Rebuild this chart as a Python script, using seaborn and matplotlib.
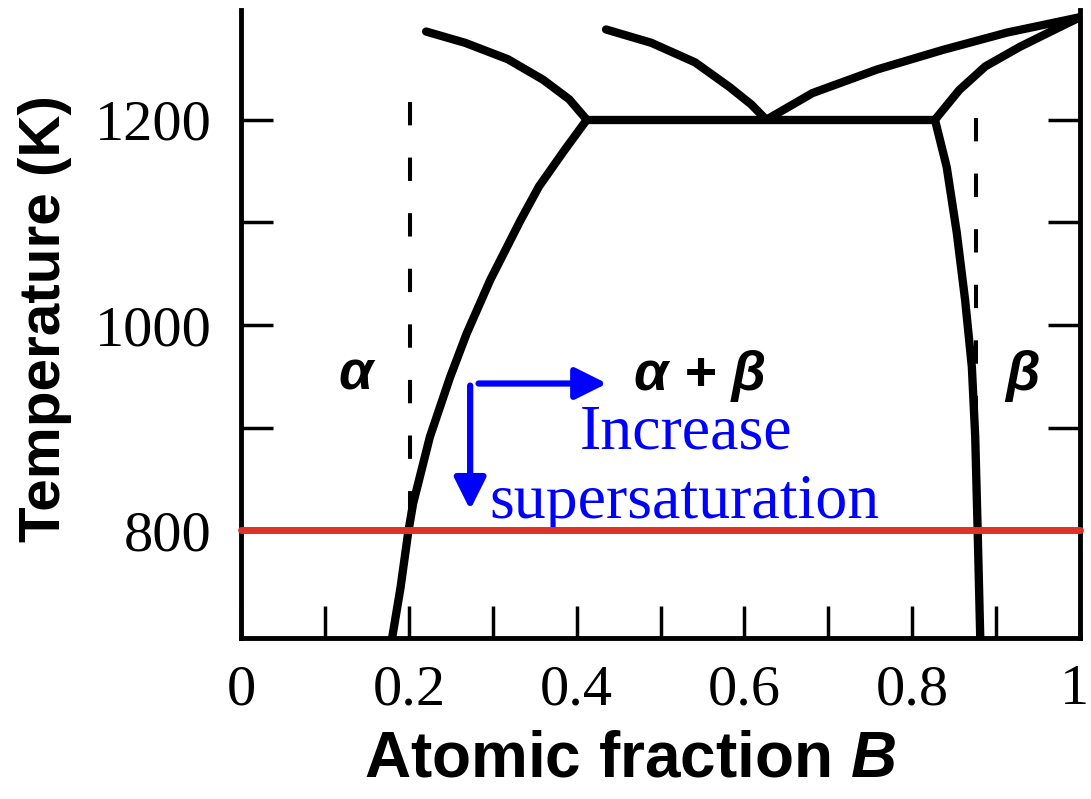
# -*- coding: utf-8 -*-

### Binary phase diagram, alpha / beta with supersaturation arrows ###

import matplotlib
matplotlib.use("Agg")
import matplotlib.pyplot as plt
import seaborn as sns
# shift the last x tick label a few points to the left
from matplotlib.transforms import ScaledTranslation

## Data ##

# alpha solvus (left two-phase boundary)
alpha_solvus_x = [0.180, 0.190, 0.199, 0.205, 0.225, 0.249, 0.269, 0.297, 0.333, 0.355, 0.386, 0.412]
alpha_solvus_T = [695, 744, 797, 826, 891, 949, 992, 1044, 1102, 1135, 1171, 1200]

# beta solvus (right two-phase boundary)
beta_solvus_x = [0.881, 0.878, 0.875, 0.871, 0.863, 0.853, 0.841, 0.827]
beta_solvus_T = [695, 797, 891, 959, 1024, 1090, 1154, 1200]

# three-phase line
eutectic_x = [0.412, 0.827]
eutectic_T = [1200, 1200]

# liquidus / solidus branches above 1200 K
alpha_liquidus_x = [0.2205, 0.267, 0.318, 0.360, 0.391, 0.412]
alpha_liquidus_T = [1286, 1275, 1259, 1239, 1220, 1200]

mid_liquidus_x = [0.435, 0.489, 0.541, 0.582, 0.608, 0.626]
mid_liquidus_T = [1288, 1275, 1256, 1232, 1215, 1200]

right_liquidus_x = [0.626, 0.681, 0.758, 0.836, 0.913, 1.0]
right_liquidus_T = [1200, 1226, 1249, 1268, 1285, 1300]

beta_solidus_x = [0.827, 0.856, 0.887, 0.928, 0.965, 1.0]
beta_solidus_T = [1200, 1229, 1252, 1271, 1286, 1300]

# alloy compositions (dashed)
alpha_alloy_x = [0.201, 0.201]
alpha_alloy_T = [1217, 800]
beta_alloy_x = [0.876, 0.876]
beta_alloy_T = [1202, 800]

# ageing temperature
hold_T = 800

x_major = [0, 0.2, 0.4, 0.6, 0.8, 1.0]
x_labels = ["0", "0.2", "0.4", "0.6", "0.8", "1"]
x_minor = [0.1, 0.3, 0.5, 0.7, 0.9]
y_major = [800, 1000, 1200]
y_minor = [900, 1100]

## Style ##
sns.set_style("white")
plt.rcParams['font.family'] = ['Liberation Serif', 'DejaVu Serif']
plt.rcParams['mathtext.fontset'] = 'custom'
plt.rcParams['mathtext.it'] = 'Liberation Sans:bold:italic'
plt.rcParams['mathtext.rm'] = 'Liberation Sans:bold'
plt.rcParams['text.color'] = 'black'
plt.rcParams['axes.labelcolor'] = 'black'
plt.rcParams['xtick.color'] = 'black'
plt.rcParams['ytick.color'] = 'black'

blue = '#0000ff'
red = '#dc3228'

fig = plt.figure(figsize=(10.91, 7.99), dpi=100)
ax = fig.add_axes([0.221, 0.2015, 0.769, 0.786])

# solid phase boundaries
curves = [(alpha_solvus_x, alpha_solvus_T), (beta_solvus_x, beta_solvus_T),
          (eutectic_x, eutectic_T), (alpha_liquidus_x, alpha_liquidus_T),
          (mid_liquidus_x, mid_liquidus_T), (right_liquidus_x, right_liquidus_T),
          (beta_solidus_x, beta_solidus_T)]
for xs, ts in curves:
    sns.lineplot(x=xs, y=ts, sort=False, estimator=None, color='black', lw=6,
                 solid_joinstyle='round', ax=ax, legend=False)

# dashed alloy lines
for xs, ts in [(alpha_alloy_x, alpha_alloy_T), (beta_alloy_x, beta_alloy_T)]:
    sns.lineplot(x=xs, y=ts, sort=False, estimator=None, color='black', lw=2.9,
                 linestyle=(0, (5.8, 8)), ax=ax, legend=False)

# ageing temperature
ax.axhline(hold_T, color=red, lw=5, zorder=4, clip_on=False)

# arrows
arrow_kw = dict(arrowstyle='-|>,head_length=0.4,head_width=0.2', color=blue, lw=4.5,
                mutation_scale=48, shrinkA=0, shrinkB=0)
ax.annotate('', xy=(0.436, 943), xytext=(0.283, 943), arrowprops=arrow_kw)
ax.annotate('', xy=(0.273, 820), xytext=(0.273, 941), arrowprops=arrow_kw)

ax.text(0.530, 880, "Increase", color=blue, fontsize=46, ha='center', va='baseline')
ax.text(0.529, 812, "supersaturation", color=blue, fontsize=46, ha='center', va='baseline')

# phase labels
greek = dict(fontsize=40, family='Liberation Sans', fontweight='bold', fontstyle='italic',
             ha='center', va='baseline', color='black')
ax.text(0.136, 937, "α", **greek)
ax.text(0.547, 937, "α + β", **greek)
ax.text(0.931, 937, "β", **greek)

## Axes ##
ax.set_xlim(0, 1)
ax.set_ylim(695, 1307)
ax.set_xticks(x_major)
ax.set_xticklabels(x_labels)
ax.set_xticks(x_minor, minor=True)
ax.set_yticks(y_major)
ax.set_yticks(y_minor, minor=True)
ax.tick_params(which='both', direction='in', length=23, width=2.5, color='black',
               top=False, right=True, left=True, bottom=True)
ax.tick_params(axis='x', pad=19, labelsize=42, labelcolor='black')
ax.tick_params(axis='y', pad=21, labelsize=42, labelcolor='black')
ax.spines['top'].set_visible(False)
for s in ['left', 'right', 'bottom']:
    ax.spines[s].set_linewidth(3.5)
    ax.spines[s].set_color('black')

last = ax.get_xticklabels()[-1]
last.set_transform(last.get_transform() + ScaledTranslation(-4 / 72, 0, fig.dpi_scale_trans))

ax.set_xlabel('Atomic fraction $B$', fontsize=46, family='Liberation Sans', fontweight='bold')
ax.xaxis.set_label_coords(0.464, -0.194)
ax.xaxis.label.set_va('center')
ax.set_ylabel('Temperature (K)', fontsize=42, family='Liberation Sans', fontweight='bold')
ax.yaxis.set_label_coords(-0.234, 0.508)
ax.yaxis.label.set_va('center')

fig.savefig('out.png', dpi=100)
